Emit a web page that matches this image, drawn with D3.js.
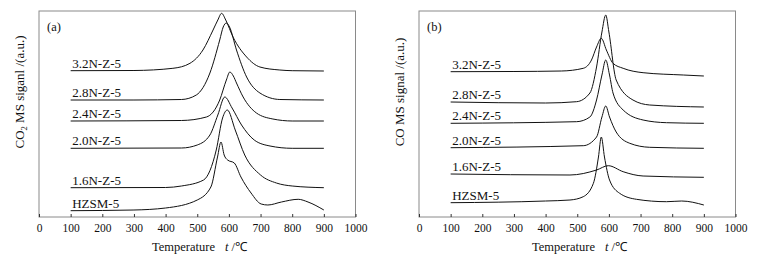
<!DOCTYPE html>
<html>
<head>
<meta charset="utf-8">
<script src="https://cdn.jsdelivr.net/npm/d3@7"></script>
<style>
  body { margin: 0; background: #fff; }
  text { font-family: "Liberation Serif", "Times New Roman", serif; fill: #111; }
</style>
</head>
<body>
<svg id="chart" width="766" height="258"></svg>
<script>
// sample names, bottom curve first
var samples = ["HZSM-5", "1.6N-Z-5", "2.0N-Z-5", "2.4N-Z-5", "2.8N-Z-5", "3.2N-Z-5"];
var xTicks = [0, 100, 200, 300, 400, 500, 600, 700, 800, 900, 1000];

// (a) CO2 MS signal, pairs of [temperature, signal a.u.]
var co2Hzsm = [[100,6.3],[300,7],[400,9],[500,17],[543,30],[564,60],[575,75],[585,62],[596,57],[617,54],[638,40],[670,24],[702,13],[723,12],[766,15],[819,17.7],[850,15],[900,7]];
var co2N16 = [[100,29.3],[400,29.5],[450,31],[520,37],[560,67],[580,99],[595,107],[620,87],[650,62],[700,42],[750,34],[800,31],[900,29.3]];
var co2N20 = [[100,68.7],[450,69],[500,72],[540,82],[565,102],[587,120],[610,109],[640,92],[680,77],[730,71],[800,68.7],[900,68.7]];
var co2N24 = [[100,96],[450,96.5],[529,100],[571,117],[592,137],[603,145],[614,141],[624,134],[645,120],[687,104],[739,98],[800,96],[900,96]];
var co2N28 = [[100,117],[300,117],[450,117.5],[497,122],[540,144],[571,177],[582,190],[592,194],[602,190],[624,167],[656,140],[698,124],[761,117.5],[900,117]];
var co2N32 = [[100,146.3],[300,146.5],[423,148.7],[477,153.7],[518,167],[550,187],[565,197],[577,203.7],[590,197],[613,180],[656,160],[698,150],[761,147],[800,146.3],[900,146]];

// (b) CO MS signal
var coHzsm = [[100,14.3],[400,16],[477,17],[519,20.3],[551,33.7],[567,60],[576,80],[586,60],[602,37],[634,23.7],[687,17.7],[782,15.3],[830,16],[900,12]];
var coN16 = [[100,43],[477,42],[561,47],[598,51.3],[645,45.3],[708,41],[900,39.7]];
var coN20 = [[100,69.3],[519,71.3],[561,80],[578,100],[590,111],[602,100],[623,85],[666,73.7],[729,69.7],[900,68.7]];
var coN24 = [[100,93.7],[498,95.3],[540,100],[561,117],[578,142],[590,157],[602,142],[613,124],[645,107],[708,97],[782,94.3],[900,93.7]];
var coN28 = [[100,115],[400,114],[498,115.3],[540,124],[561,150],[578,185],[590,202],[600,185],[623,137],[676,117],[729,112],[900,110]];
var coN32 = [[100,145.3],[300,145.5],[450,146],[519,148.7],[545,157],[561,170],[576,178.7],[592,167],[613,153.7],[645,148.7],[708,144.3],[835,142],[900,141]];

var panels = [
  { tag: "(a)", left: 39, series: [co2Hzsm, co2N16, co2N20, co2N24, co2N28, co2N32], yTitle: "co2" },
  { tag: "(b)", left: 419, series: [coHzsm, coN16, coN20, coN24, coN28, coN32], yTitle: "co" }
];

var pw = 316.5, plotTop = 11, plotBottom = 217;
var svg = d3.select("#chart");

panels.forEach(function (p) {
  var g = svg.append("g").attr("transform", "translate(" + p.left + ",0)");

  var x = d3.scaleLinear().domain([0, 1000]).range([0, pw]);
  var y = d3.scaleLinear().domain([0, 206]).range([plotBottom, plotTop]);

  // frame
  g.append("rect")
    .attr("x", 0).attr("y", plotTop)
    .attr("width", pw).attr("height", plotBottom - plotTop)
    .attr("fill", "none")
    .attr("stroke", "#8a8a8a")
    .attr("stroke-width", 1);

  // x axis, ticks pointing inward
  var ax = g.append("g")
    .attr("transform", "translate(0," + plotBottom + ")")
    .call(d3.axisBottom(x).tickValues(xTicks).tickSize(-3).tickPadding(7).tickFormat(d3.format("d")));
  ax.select(".domain").remove();
  ax.selectAll(".tick line").attr("stroke", "#333");
  ax.selectAll(".tick text")
    .attr("font-size", 11.5)
    .attr("font-family", "Liberation Serif");

  // curves
  var line = d3.line()
    .x(function (d) { return x(d[0]); })
    .y(function (d) { return y(d[1]); })
    .curve(d3.curveMonotoneX);

  g.selectAll("path.curve")
    .data(p.series)
    .enter()
    .append("path")
    .attr("class", "curve")
    .attr("d", line)
    .attr("fill", "none")
    .attr("stroke", "#111")
    .attr("stroke-width", 1);

  // sample labels sit on each curve's left baseline
  g.selectAll("text.lbl")
    .data(p.series)
    .enter()
    .append("text")
    .attr("class", "lbl")
    .attr("x", x(105))
    .attr("y", function (d) { return y(d[0][1]) - 3; })
    .attr("font-size", 13)
    .text(function (d, i) { return samples[i]; });

  g.append("text")
    .attr("x", 8).attr("y", 31)
    .attr("font-size", 12.5)
    .text(p.tag);

  // x title
  g.append("text")
    .attr("x", 113).attr("y", 251)
    .attr("font-size", 12.5)
    .text("Temperature");
  var tt = g.append("text")
    .attr("x", 186).attr("y", 251)
    .attr("font-size", 12.5);
  tt.append("tspan").attr("font-style", "italic").text("t");
  tt.append("tspan").text(" /\u2103");

  // y title
  var yt = g.append("text")
    .attr("transform", "translate(-15," + 92 + ") rotate(-90)")
    .attr("text-anchor", "middle")
    .attr("font-size", 13);
  if (p.yTitle === "co2") {
    yt.append("tspan").text("CO");
    yt.append("tspan").attr("font-size", 8.5).attr("dy", 3).text("2");
    yt.append("tspan").attr("dy", -3).text(" MS siganl /(a.u.)");
  } else {
    yt.text("CO MS signal /(a.u.)");
  }
});
</script>
</body>
</html>
